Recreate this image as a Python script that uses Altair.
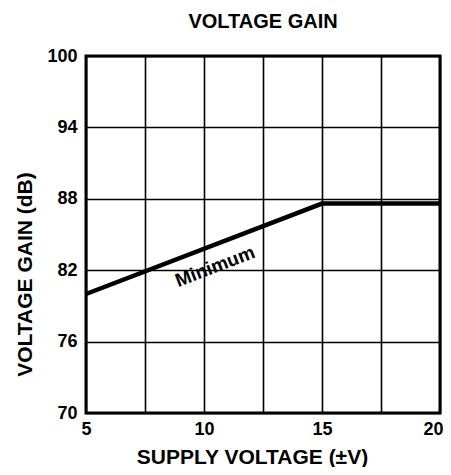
import altair as alt
import pandas as pd

supply_v = [5, 15, 20]
gain_db = [80.0, 87.6, 87.6]

x_grid = [5, 7.5, 10, 12.5, 15, 17.5, 20]
y_grid = [70, 73, 76, 79, 82, 85, 88, 91, 94, 97, 100]

label_text = ["Minimum"]
label_x = [10.47]
label_y = [82.3]

FONT = "Liberation Sans"

line_df = pd.DataFrame({"v": supply_v, "g": gain_db})
lab_df = pd.DataFrame({"t": label_text, "v": label_x, "g": label_y})

xs = alt.Scale(domain=[5, 20], nice=False, zero=False)
ys = alt.Scale(domain=[70, 100], nice=False, zero=False)

line = alt.Chart(line_df).mark_line(color="black", strokeWidth=4.5, strokeCap="butt").encode(
    x=alt.X("v:Q", scale=xs, axis=alt.Axis(
        values=x_grid, labelExpr="datum.value % 5 == 0 ? datum.label : ''",
        labelAlign={"condition": {"test": "datum.value == 20", "value": "right"}, "value": "center"},
        labelOffset={"condition": {"test": "datum.value == 20", "value": 3}, "value": 0},
        title="SUPPLY VOLTAGE (±V)", titleX=166, titleY=50, titleBaseline="alphabetic",
        titleAlign="center", labelPadding=7)),
    y=alt.Y("g:Q", scale=ys, axis=alt.Axis(
        values=y_grid, labelExpr="(datum.value - 70) % 6 == 0 ? datum.label : ''",
        title="VOLTAGE GAIN (dB)", titleX=-55, titleY=218, titleBaseline="alphabetic",
        titleAlign="center", titleAngle=270, labelPadding=9)),
)

text = alt.Chart(lab_df).mark_text(
    font=FONT, fontSize=19, fontWeight="bold", angle=339, align="center", baseline="middle", color="black"
).encode(x=alt.X("v:Q", scale=xs), y=alt.Y("g:Q", scale=ys), text="t:N")

chart = alt.layer(line, text).properties(
    width=354, height=357,
    background="white",
    title=alt.TitleParams("VOLTAGE GAIN", font=FONT, fontSize=20, fontWeight="bold",
                          offset=15, color="black"),
    autosize=alt.AutoSizeParams(type="none"),
    padding={"left": 78, "top": 48, "right": 3, "bottom": 54},
).configure_view(stroke="black", strokeWidth=3).configure_axis(
    grid=True, gridColor="black", gridWidth=1.6, gridOpacity=1,
    domain=False, ticks=False,
    labelFont=FONT, labelFontSize=18, labelFontWeight="bold", labelColor="black",
    titleFont=FONT, titleFontSize=21, titleFontWeight="bold", titleColor="black",
)

chart.save("out.html", embed_options={"renderer": "svg", "actions": False})
